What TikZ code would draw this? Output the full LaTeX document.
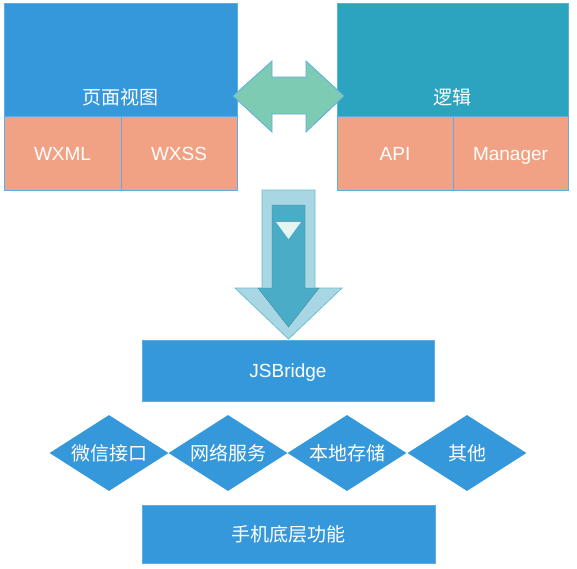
\documentclass[tikz,border=0pt]{standalone}
\usepackage{fontspec}
\setmainfont{Liberation Sans}
\newfontfamily\cjk{Noto Sans CJK SC}
\usetikzlibrary{shapes.geometric}

\definecolor{viewblue}{HTML}{3598DB}
\definecolor{logicteal}{HTML}{2CA3BF}
\definecolor{partorange}{HTML}{F1A284}
\definecolor{edgeblue}{HTML}{5DADE2}
\definecolor{swapgreen}{HTML}{7ECBB4}
\definecolor{downlight}{HTML}{A9D6E3}
\definecolor{downdark}{HTML}{4AACC6}
\definecolor{tipwhite}{HTML}{E6F5F2}

\begin{document}
\begin{tikzpicture}[x=1pt,y=-1pt,
        panel/.style = {rectangle,draw=edgeblue,line width=1pt,inner sep=0pt},
        part/.style = {panel,fill=partorange,minimum height=74pt},
        service/.style = {diamond,fill=viewblue,inner sep=0pt,aspect=1.566,
                          minimum width=119pt,minimum height=76pt},
        word/.style = {text=white,font=\fontsize{19}{21}\selectfont,
                       text height=16pt,text depth=2pt}]

        \useasboundingbox (0,0) rectangle (577,568);

        % upper row: view and logic layers
        \path   (120.5,59.5) node (view)  [panel,fill=viewblue,minimum width=233pt,minimum height=113pt] {}
                (452.5,59.5) node (logic) [panel,fill=logicteal,minimum width=231pt,minimum height=113pt] {}
                (62.5,153)   node (wxml)    [part,minimum width=117pt,word] {WXML}
                (179,153)    node (wxss)    [part,minimum width=116pt,word] {WXSS}
                (395,153)    node (api)     [part,minimum width=116pt,word] {API}
                (510.5,153)  node (manager) [part,minimum width=115pt,word] {Manager};

        \node (viewtext)  [word] at (120.5,97) {\cjk 页面视图};
        \node (logictext) [word] at (452.5,97) {\cjk 逻辑};

        % two-way arrow between the layers
        \draw[fill=swapgreen,draw=edgeblue,line width=0.8pt]
                (233,96) -- (272,61) -- (272,77) -- (306,77) -- (306,61) -- (344,96)
                -- (306,132) -- (306,114) -- (272,114) -- (272,132) -- cycle;

        % arrow down to the bridge
        \draw[fill=downlight,draw=downdark!80,line width=0.8pt]
                (262,190) -- (315,190) -- (315,288) -- (342,288) -- (288.5,339)
                -- (235,288) -- (262,288) -- cycle;
        \draw[fill=downdark,draw=downdark!80!black,line width=0.4pt]
                (272,205) -- (305,205) -- (305,288) -- (319,288) -- (288.5,327)
                -- (258,288) -- (272,288) -- cycle;
        \fill[tipwhite] (276,222) -- (301,222) -- (288.5,239) -- cycle;

        % lower part
        \path   (288,370.5) node (bridge) [panel,fill=viewblue,minimum width=292pt,minimum height=61pt,word] {JSBridge}
                (109,453)   node (wechat)  [service,word] {\cjk 微信接口}
                (228,453)   node (network) [service,word] {\cjk 网络服务}
                (347,453)   node (storage) [service,word] {\cjk 本地存储}
                (467,453)   node (other)   [service,word] {\cjk 其他}
                (288.5,534) node (native) [panel,fill=viewblue,minimum width=293pt,minimum height=58pt,word] {\cjk 手机底层功能};

\end{tikzpicture}
\end{document}
